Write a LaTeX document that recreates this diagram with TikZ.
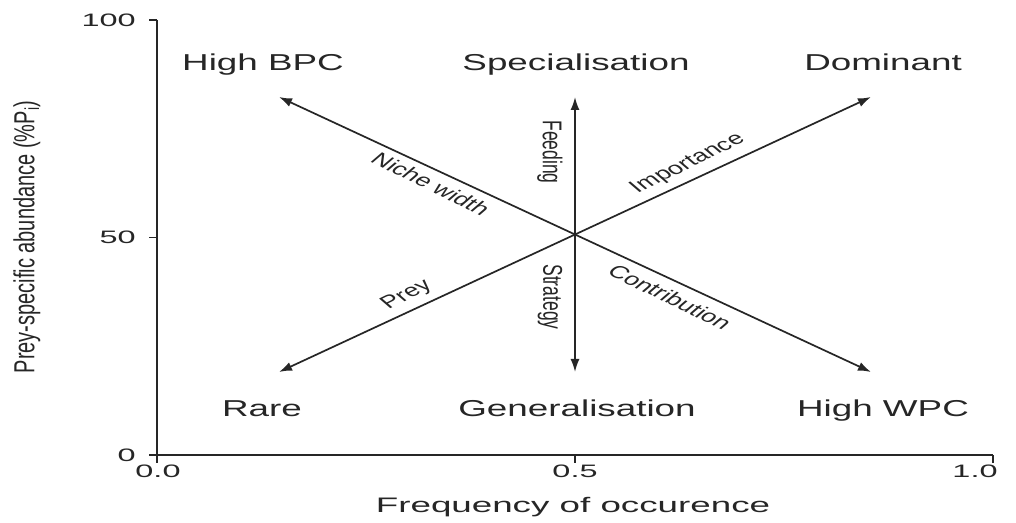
\documentclass[tikz,border=0pt]{standalone}
\usepackage{fontspec}
\setmainfont{Liberation Sans}
\usetikzlibrary{arrows.meta}
\definecolor{ink}{HTML}{262626}
\begin{document}
\begin{tikzpicture}[x=1pt,y=1pt,
  axis/.style={draw=ink, line width=1.4pt},
  dbl/.style={draw=ink, line width=1.7pt, {Latex[length=13pt,width=9pt]}-{Latex[length=13pt,width=9pt]}},
  big/.style={font=\fontsize{23}{27}\selectfont, text=ink, inner sep=0pt, xscale=1.6, anchor=base},
  small/.style={font=\fontsize{17.5}{20}\selectfont, text=ink, inner sep=0pt},
  tick/.style={font=\fontsize{18}{21}\selectfont, text=ink, inner sep=0pt, xscale=1.8},
  ttl/.style={font=\fontsize{21}{25}\selectfont, text=ink, inner sep=0pt}]
\useasboundingbox (0,0) rectangle (1016,522);
\fill[white] (0,0) rectangle (1016,522);
% axes
\coordinate (top) at (157,502);
\coordinate (org) at (157,67);
\coordinate (xend) at (993,67);
\draw[axis] (top) -- (org) -- (xend);
\coordinate (yt100) at (149,502);
\coordinate (yt50) at (149,284.5);
\coordinate (yt0) at (149,67);
\coordinate (ya100) at (157,502);
\coordinate (ya50) at (157,284.5);
\draw[axis] (yt100) -- (ya100);
\draw[axis] (yt50) -- (ya50);
\draw[axis] (yt0) -- (org);
\coordinate (xt0) at (157,59);
\coordinate (xt5) at (575,59);
\coordinate (xa5) at (575,67);
\coordinate (xt1) at (993,59);
\draw[axis] (org) -- (xt0);
\draw[axis] (xa5) -- (xt5);
\draw[axis] (xend) -- (xt1);
% tick labels
\node[tick, anchor=east] (l100) at (136,502) {100};
\node[tick, anchor=east] (l50) at (136,284.5) {50};
\node[tick, anchor=east] (l0) at (136,67) {0};
\node[tick] (lx0) at (158,51) {0.0};
\node[tick] (lx5) at (575,51) {0.5};
\node[tick] (lx1) at (975,51) {1.0};
\node[ttl, xscale=1.75] (xtitle) at (573,15) {Frequency of occurence};
\node[ttl, xscale=1.45, rotate=90, font=\fontsize{20}{24}\selectfont] (ytitle) at (27,285) {Prey-specific abundance (\%P\textsubscript{i})};
% arrows
\coordinate (C) at (575,287);
\coordinate (NW) at (279,425);
\coordinate (NE) at (871,425);
\coordinate (SW) at (279,150);
\coordinate (SE) at (871,150);
\coordinate (N) at (575,425);
\coordinate (S) at (575,150);
\draw[dbl] (NW) -- (SE);
\draw[dbl] (SW) -- (NE);
\draw[dbl] (S) -- (N);
% corner labels
\node[big] (hbpc) at (263,451) {High BPC};
\node[big] (spec) at (576,451) {Specialisation};
\node[big] (dom) at (883,451) {Dominant};
\node[big] (rare) at (262,106) {Rare};
\node[big] (gen) at (577,106) {Generalisation};
\node[big] (hwpc) at (883,106) {High WPC};
% line labels
\node[small, xscale=1.55, rotate=-90] (feed) at (550,370) {Feeding};
\node[small, xscale=1.55, rotate=-90] (strat) at (550,225) {Strategy};
\node[small, xscale=1.55, rotate=-37] (niche) at (431,338) {Niche width};
\node[small, xscale=1.55, rotate=37] (imp) at (688,358) {Importance};
\node[small, xscale=1.55, rotate=37] (prey) at (407,227) {Prey};
\node[small, xscale=1.55, rotate=-37] (contr) at (670,225) {Contribution};
\end{tikzpicture}
\end{document}
